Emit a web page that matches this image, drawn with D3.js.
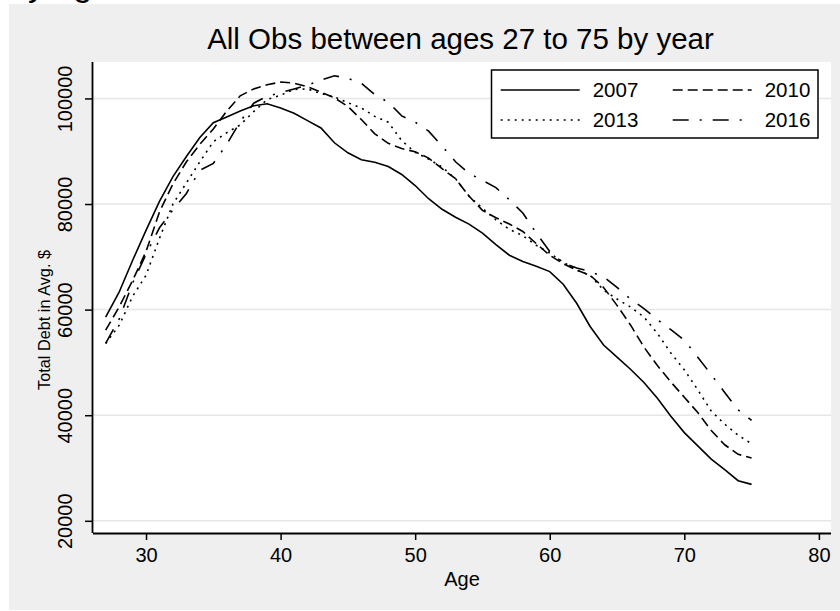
<!DOCTYPE html>
<html>
<head>
<meta charset="utf-8">
<script src="https://cdn.jsdelivr.net/npm/d3@7"></script>
<style>
  html, body { margin: 0; padding: 0; background: #ffffff; }
  svg { display: block; font-family: "Liberation Sans", Arial, Helvetica, sans-serif; }
</style>
</head>
<body>
<svg id="chart" width="840" height="611"></svg>
<script>
// ---------------- DATA ----------------
const ages = d3.range(27, 76);
const years = ["2007", "2010", "2013", "2016"];
const debt2007 = [58600, 63300, 69300, 75000, 80500, 85200, 89000, 92600, 95400, 96500,
  97600, 98600, 99000, 98200, 97200, 95800, 94400, 91600, 89700, 88400,
  87900, 87100, 85600, 83500, 81000, 79000, 77500, 76200, 74500, 72300,
  70300, 69100, 68200, 67200, 64800, 61200, 56800, 53300, 51000, 48700,
  46200, 43200, 39800, 36700, 34200, 31700, 29700, 27600, 26900];
const debt2010 = [56100, 60500, 65500, 71000, 78500, 83800, 88000, 91300, 94200, 97600,
  100500, 101800, 102600, 103100, 102900, 102200, 101200, 100100, 98500, 96000,
  93300, 91500, 90500, 89900, 88700, 86700, 84800, 81500, 78800, 77400,
  76200, 74800, 72500, 70300, 68700, 67500, 66500, 64200, 60800, 57100,
  52900, 49400, 46300, 43400, 40500, 37100, 34400, 32600, 31900];
const debt2013 = [53600, 57000, 62500, 66500, 73500, 80000, 84000, 88000, 91800, 93500,
  95000, 97500, 99800, 100600, 101700, 101800, 100900, 100300, 99200, 98200,
  96600, 95500, 92000, 89800, 88500, 87000, 84800, 81500, 79200, 77000,
  75200, 74000, 72200, 70700, 69000, 67500, 66500, 63700, 62000, 60500,
  58600, 55500, 51800, 48600, 44800, 40800, 38300, 36200, 34600];
const debt2016 = [53600, 58200, 65000, 70500, 75500, 78900, 82000, 86400, 87700, 91300,
  95600, 99100, 100400, 101100, 101800, 102500, 103500, 104300, 103800, 102900,
  100700, 99300, 96700, 95500, 93800, 91000, 88000, 85800, 84500, 83100,
  80800, 78300, 74500, 71000, 68800, 67900, 67200, 66200, 64200, 62000,
  60200, 58100, 56200, 54200, 51000, 47700, 44300, 41000, 39000];
const xTicks = [30, 40, 50, 60, 70, 80];
const yTicks = [20000, 40000, 60000, 80000, 100000];
const titleText = "All Obs between ages 27 to 75 by year";
const xTitle = "Age";
const yTitle = "Total Debt in Avg. $";
const topText = "by age";

const seriesValues = [debt2007, debt2010, debt2013, debt2016];
const dashes = [null, "10,5", "2,5", "16,11,2,11"];

// ---------------- LAYOUT ----------------
const svg = d3.select("#chart");
const W = 840, H = 611;
const plot = { left: 93, right: 831, top: 62, bottom: 533 };

svg.append("text").attr("x", 9).attr("y", -4)
  .attr("font-size", 34).attr("fill", "#000").text(topText);

svg.append("rect").attr("x", 9).attr("y", 4).attr("width", W - 9).attr("height", 606)
  .attr("fill", "#efefef");
svg.append("rect").attr("x", plot.left).attr("y", plot.top)
  .attr("width", plot.right - plot.left).attr("height", plot.bottom - plot.top)
  .attr("fill", "#ffffff");

const x = d3.scaleLinear().domain([26.06, 80.9]).range([plot.left, plot.right]);
const y = d3.scaleLinear().domain([17690, 106900]).range([plot.bottom, plot.top]);

// gridlines
svg.append("g").selectAll("line").data(yTicks).join("line")
  .attr("x1", plot.left).attr("x2", plot.right)
  .attr("y1", d => y(d)).attr("y2", d => y(d))
  .attr("stroke", "#e6e6e6").attr("stroke-width", 1.5);

// lines
const line = d3.line().x((d, i) => x(ages[i])).y(d => y(d));
svg.append("g").selectAll("path").data(seriesValues).join("path")
  .attr("d", d => line(d))
  .attr("fill", "none").attr("stroke", "#000").attr("stroke-width", 1.6)
  .attr("stroke-dasharray", (d, i) => dashes[i]);

// axes
const xAxis = svg.append("g").attr("transform", `translate(0,${plot.bottom})`)
  .call(d3.axisBottom(x).tickValues(xTicks).tickSize(7).tickPadding(6).tickFormat(d3.format("d")));
xAxis.select(".domain").attr("d", `M${plot.left},0.5H${plot.right}`).attr("stroke-width", 1.8);
xAxis.selectAll(".tick line").attr("stroke-width", 1.5);
xAxis.selectAll(".tick text").attr("font-size", 20).attr("font-family", "Liberation Sans, Arial, sans-serif")
  .attr("fill", "#000").attr("y", 29).attr("dy", 0);

const yAxis = svg.append("g").attr("transform", `translate(${plot.left},0)`)
  .call(d3.axisLeft(y).tickValues(yTicks).tickSize(8).tickFormat(d3.format("d")));
yAxis.select(".domain").attr("d", `M-0.5,${plot.bottom}V${plot.top}`).attr("stroke-width", 1.8);
yAxis.selectAll(".tick line").attr("stroke-width", 1.5);
yAxis.selectAll(".tick text").attr("font-size", 20).attr("font-family", "Liberation Sans, Arial, sans-serif")
  .attr("fill", "#000").attr("x", null).attr("dy", null)
  .attr("text-anchor", "middle")
  .attr("transform", "translate(-21,0) rotate(-90)");

// titles
svg.append("text").attr("x", 460.5).attr("y", 49.3).attr("text-anchor", "middle")
  .attr("font-size", 29.5).attr("fill", "#000").text(titleText);
svg.append("text").attr("x", 462).attr("y", 586).attr("text-anchor", "middle")
  .attr("font-size", 20).attr("fill", "#000").text(xTitle);
svg.append("text").attr("transform", "translate(50,320) rotate(-90)").attr("text-anchor", "middle")
  .attr("font-size", 17).attr("textLength", 140).attr("lengthAdjust", "spacingAndGlyphs")
  .attr("fill", "#000").text(yTitle);

// legend
const lg = svg.append("g");
lg.append("rect").attr("x", 491.5).attr("y", 70).attr("width", 326.5).attr("height", 68)
  .attr("fill", "#fff").attr("stroke", "#000").attr("stroke-width", 1.5);
const legPos = [[0, 0], [1, 0], [0, 1], [1, 1]];
years.forEach((yr, i) => {
  const cx = 500.7 + legPos[i][0] * 172;
  const cy = 90 + legPos[i][1] * 30;
  lg.append("line").attr("x1", cx).attr("x2", cx + 79).attr("y1", cy).attr("y2", cy)
    .attr("stroke", "#000").attr("stroke-width", 1.5).attr("stroke-dasharray", dashes[i]);
  lg.append("text").attr("x", cx + 92).attr("y", cy + 7.3).attr("font-size", 20.5)
    .attr("fill", "#000").text(yr);
});
</script>
</body>
</html>
